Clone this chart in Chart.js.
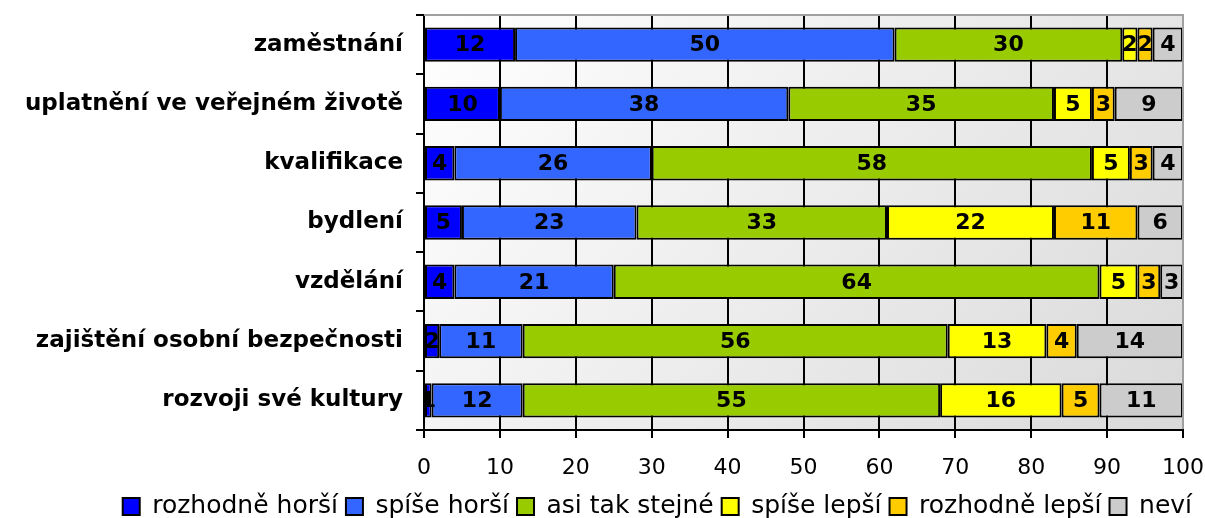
<!DOCTYPE html>
<html>
<head>
<meta charset="utf-8">
<script src="https://cdn.jsdelivr.net/npm/chart.js@4"></script>
<style>
  html, body { margin: 0; padding: 0; background: #fff; overflow: hidden; }
  #wrap { width: 1205px; height: 529px; }
</style>
</head>
<body>
<div id="wrap"><canvas id="myChart" width="1205" height="529"></canvas></div>
<script>
const categories = ['zaměstnání', 'uplatnění ve veřejném životě', 'kvalifikace', 'bydlení', 'vzdělání', 'zajištění osobní bezpečnosti', 'rozvoji své kultury'];
const seriesNames = ['rozhodně horší', 'spíše horší', 'asi tak stejné', 'spíše lepší', 'rozhodně lepší', 'neví'];
const rozhodneHorsi = [12, 10, 4, 5, 4, 2, 1];
const spiseHorsi = [50, 38, 26, 23, 21, 11, 12];
const asiTakStejne = [30, 35, 58, 33, 64, 56, 55];
const spiseLepsi = [2, 5, 5, 22, 5, 13, 16];
const rozhodneLepsi = [2, 3, 3, 11, 3, 4, 5];
const nevi = [4, 9, 4, 6, 3, 14, 11];
const colors = ['#0000ff', '#3366ff', '#99cc00', '#ffff00', '#ffcc00', '#cccccc'];

const values = [rozhodneHorsi, spiseHorsi, asiTakStejne, spiseLepsi, rozhodneLepsi, nevi];
const font = 'DejaVu Sans';

// gradient plot background + grey frame top/right
const bgPlugin = {
    id: 'bg',
    beforeDraw(chart) {
        const { ctx, chartArea: a } = chart;
        const g = ctx.createLinearGradient(a.left, a.top, a.right, a.bottom + 200);
        g.addColorStop(0, '#ffffff');
        g.addColorStop(1, '#d4d4d4');
        ctx.save();
        ctx.fillStyle = g;
        ctx.fillRect(a.left, a.top, a.right - a.left, a.bottom - a.top);
        ctx.restore();
    },
    afterDraw(chart) {
        const { ctx, chartArea: a } = chart;
        ctx.save();
        ctx.strokeStyle = '#a0a0a0';
        ctx.lineWidth = 2;
        ctx.beginPath();
        ctx.moveTo(a.left, a.top);
        ctx.lineTo(a.right, a.top);
        ctx.lineTo(a.right, a.bottom - 1);
        ctx.stroke();
        ctx.restore();
    }
};

// value labels in the middle of each segment
const labelPlugin = {
    id: 'barLabels',
    afterDatasetsDraw(chart) {
        const ctx = chart.ctx;
        ctx.save();
        ctx.font = 'bold 22px ' + font;
        ctx.fillStyle = '#000';
        ctx.textAlign = 'center';
        ctx.textBaseline = 'middle';
        chart.data.datasets.forEach((ds, i) => {
            chart.getDatasetMeta(i).data.forEach((el, j) => {
                ctx.fillText(ds.data[j], (el.x + el.base) / 2, el.y + 1);
            });
        });
        ctx.restore();
    }
};

const ctx = document.getElementById('myChart').getContext('2d');

let chart = new Chart(ctx, {
    type: 'bar',
    data: {
        labels: categories,
        datasets: seriesNames.map((name, i) => ({
            label: name,
            data: values[i],
            backgroundColor: colors[i],
            borderColor: '#000',
            borderWidth: 2,
            borderSkipped: false,
            barPercentage: 0.58,
            categoryPercentage: 1
        }))
    },
    options: {
        indexAxis: 'y',
        responsive: false,
        animation: false,
        layout: { padding: { top: 15, right: 5, left: 0, bottom: 0 } },
        plugins: {
            tooltip: { enabled: false },
            legend: {
                position: 'bottom',
                align: 'end',
                labels: {
                    font: { family: font, size: 25 },
                    color: '#000',
                    boxWidth: 17,
                    boxHeight: 17,
                    padding: 8
                }
            }
        },
        scales: {
            x: {
                stacked: true,
                min: 0,
                max: 100,
                ticks: { stepSize: 10, color: '#000', font: { family: font, size: 22 }, padding: 17 },
                grid: {
                    color: c => c.tick && c.tick.value === 100 ? '#a0a0a0' : '#000',
                    tickColor: '#000',
                    lineWidth: 2,
                    tickLength: 8
                },
                border: { color: '#000', width: 2 },
                afterFit(scale) {
                    scale.height = 56;
                    scale.paddingLeft = 0;
                    scale.paddingRight = 22;
                }
            },
            y: {
                stacked: true,
                ticks: { color: '#000', font: { family: font, size: 23, weight: 'bold' }, padding: 13 },
                grid: { offset: true, drawOnChartArea: false, color: '#000', lineWidth: 2, tickLength: 8 },
                border: { color: '#000', width: 2 },
                afterFit(scale) {
                    scale.width = 424;
                    scale.paddingTop = 0;
                    scale.paddingBottom = 0;
                }
            }
        }
    },
    plugins: [bgPlugin, labelPlugin]
});
</script>
</body>
</html>
